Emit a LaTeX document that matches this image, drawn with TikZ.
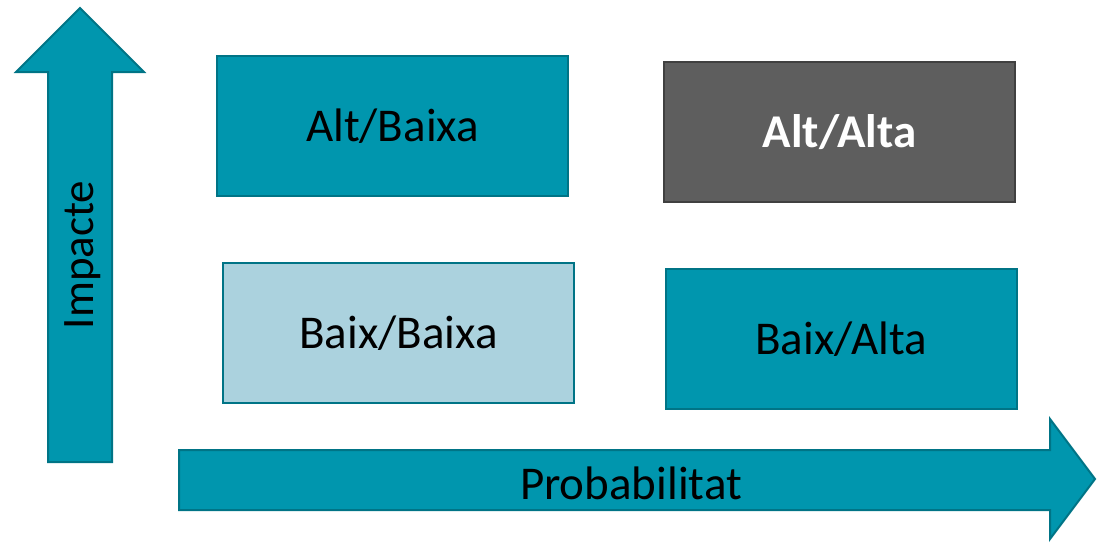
\documentclass[tikz,border=0pt]{standalone}
\usepackage{fontspec}
\setmainfont{Carlito}
\definecolor{tealfill}{RGB}{0,150,174}
\definecolor{tealline}{RGB}{0,116,134}
\definecolor{palefill}{RGB}{171,210,222}
\definecolor{darkfill}{RGB}{94,94,94}
\definecolor{darkline}{RGB}{64,64,64}
\tikzset{
  cell/.style={draw=tealline, fill=tealfill, line width=2pt, minimum width=351pt, minimum height=140pt, inner sep=0pt, font=\fontsize{47}{56}\selectfont},
  axisarrow/.style={draw=tealline, fill=tealfill, line width=2pt, line join=miter},
  axislabel/.style={font=\fontsize{47}{56}\selectfont, inner sep=0pt}
}
\begin{document}
\begin{tikzpicture}[x=1pt,y=-1pt]
\useasboundingbox (0,0) rectangle (1097,542);
% vertical axis arrow
\draw[axisarrow] (48,462) -- (48,72) -- (16,72) -- (80,8) -- (144,72) -- (112,72) -- (112,462) -- cycle;
\node[axislabel, rotate=90, font=\fontsize{45}{54}\selectfont] (impacte) at (83,255) {Impacte};
% horizontal axis arrow
\draw[axisarrow] (179,450) -- (1050,450) -- (1050,419) -- (1095,479) -- (1050,539) -- (1050,510) -- (179,510) -- cycle;
\node[axislabel] (prob) at (631,483) {Probabilitat};
% quadrants
\node[cell] (ab) at (392.5,126) {Alt/Baixa};
\node[cell, draw=darkline, fill=darkfill, text=white, font=\fontsize{47}{56}\selectfont\bfseries] (aa) at (839.5,132) {Alt/Alta};
\node[cell, fill=palefill] (bb) at (398.5,333) {Baix/Baixa};
\node[cell] (ba) at (841,339) {Baix/Alta};
\end{tikzpicture}
\end{document}
